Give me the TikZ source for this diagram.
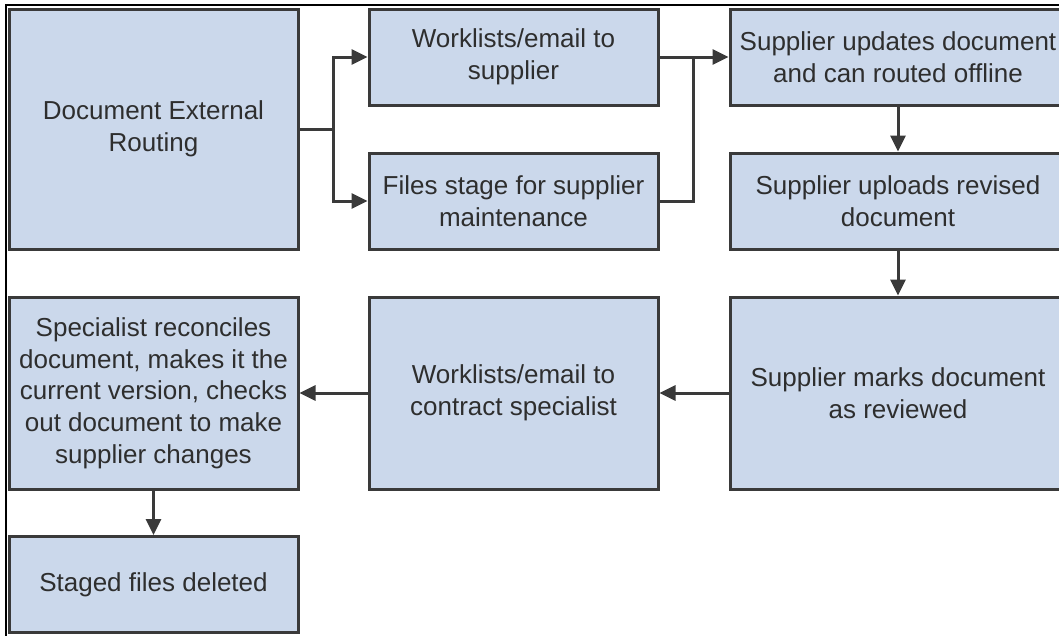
\documentclass[tikz,border=0pt]{standalone}
\usepackage{fontspec}
\setmainfont{Liberation Sans}
\usetikzlibrary{arrows.meta}
\definecolor{boxfill}{HTML}{CBD8EB}
\definecolor{boxline}{HTML}{3A3A3A}
\definecolor{txt}{HTML}{2E2E2E}
\tikzset{
  box/.style={draw=boxline, fill=boxfill, line width=3pt, rectangle, align=center,
    text=txt, font=\fontsize{26}{31.7}\selectfont, inner sep=0pt},
  conn/.style={draw=boxline, line width=3pt, -{Triangle[length=16pt,width=15pt]}},
  plain/.style={draw=boxline, line width=3pt}
}
\begin{document}
\begin{tikzpicture}[x=1pt,y=-1pt]
\useasboundingbox (0,0) rectangle (1059,635);
\clip (0,0) rectangle (1059,635);
\draw[black, line width=1.5pt] (6,640) -- (6,5) -- (1070,5);
\node[box, minimum width=289pt, minimum height=240pt] (A) at (153.5,129) {Document External\\Routing};
\node[box, minimum width=289pt, minimum height=96pt] (B) at (513.5,57) {Worklists/email to\\supplier};
\node[box, minimum width=289pt, minimum height=96pt] (C) at (513.5,201) {Files stage for supplier\\maintenance};
\node[box, minimum width=336pt, minimum height=96pt] (D) at (898,57) {Supplier updates document\\and can routed offline};
\node[box, minimum width=336pt, minimum height=96pt] (E) at (898,201) {Supplier uploads revised\\document};
\node[box, minimum width=336pt, minimum height=192pt] (F) at (898,393) {Supplier marks document\\as reviewed};
\node[box, minimum width=289pt, minimum height=192pt] (G) at (513.5,393) {Worklists/email to\\contract specialist};
\node[box, minimum width=289pt, minimum height=192pt] (H) at (153.5,393) {Specialist reconciles\\document, makes it the\\current version, checks\\out document to make\\supplier changes};
\node[box, minimum width=289pt, minimum height=96pt] (I) at (153.5,584.5) {Staged files deleted};
\coordinate (s1) at (333,129);
\coordinate (s2) at (693,57);
\draw[plain] (A.east) -- (s1);
\draw[conn] (s1) |- (B.west);
\draw[conn] (s1) |- (C.west);
\draw[plain] (B.east) -- (s2);
\draw[plain] (C.east) -| (s2);
\draw[conn] (s2) -- (D.west);
\draw[conn] (D.south) -- (E.north);
\draw[conn] (E.south) -- (F.north);
\draw[conn] (F.west) -- (G.east);
\draw[conn] (G.west) -- (H.east);
\draw[conn] (H.south) -- (I.north);
\end{tikzpicture}
\end{document}
